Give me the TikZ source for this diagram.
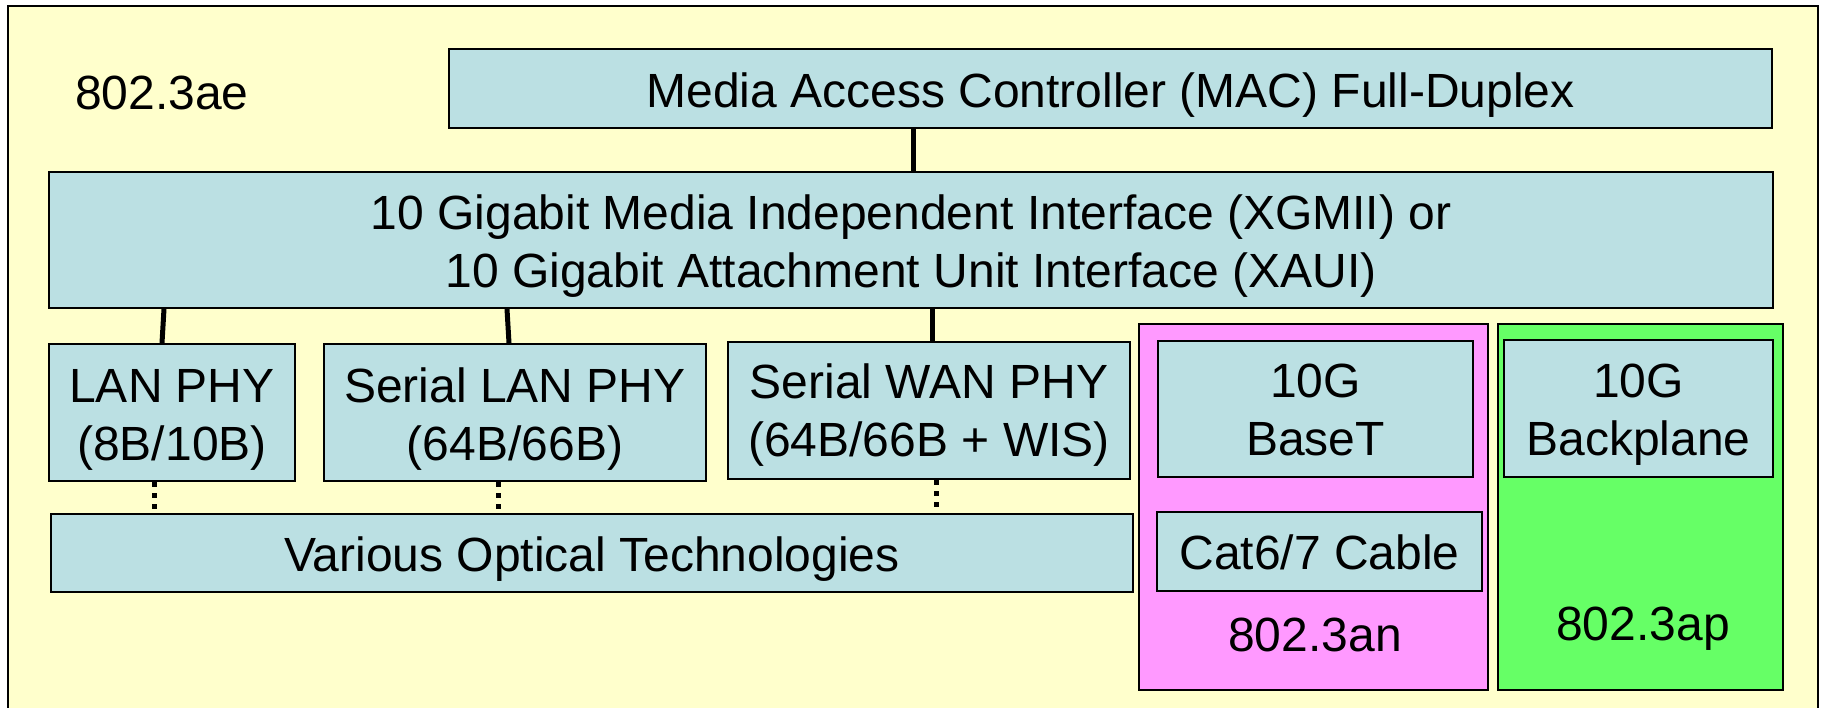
\documentclass[tikz,border=0pt]{standalone}
\usepackage{fontspec}
\setmainfont{Liberation Sans}
\definecolor{bg}{HTML}{FFFFCC}
\definecolor{boxblue}{HTML}{BBE0E3}
\definecolor{pinkbg}{HTML}{FF99FF}
\definecolor{greenbg}{HTML}{66FF66}
\begin{document}
\begin{tikzpicture}[x=1pt,y=-1pt,
  box/.style={draw=black, line width=2pt, fill=boxblue, inner sep=0pt, align=center,
    font=\fontsize{48}{58}\selectfont, text depth=0pt},
  group/.style={draw=black, line width=2pt, inner sep=0pt},
  link/.style={line width=5pt},
  optlink/.style={line width=5pt, dash pattern=on 5pt off 6pt},
  lbl/.style={font=\fontsize{48}{58}\selectfont, inner sep=0pt, anchor=base}
]
\useasboundingbox (0,0) rectangle (1821,707);
\fill[white] (0,0) rectangle (1821,707);
\clip (0,0) rectangle (1821,707);
\draw[fill=bg, line width=2.5pt] (8,6) rectangle (1818,760);

\node[lbl, anchor=base west] (ae) at (75,109) {802.3ae};

% group boxes
\node[group, fill=pinkbg, minimum width=349pt, minimum height=366pt] (an) at (1313.5,507) {};
\node[group, fill=greenbg, minimum width=285pt, minimum height=366pt] (ap) at (1640.5,507) {};
\node[lbl] (anlbl) at (1315,651) {802.3an};
\node[lbl] (aplbl) at (1643,640) {802.3ap};

% boxes
\node[box, minimum width=1323pt, minimum height=79pt, text height=37pt] (mac) at (1110.5,88.5)
  {Media Access Controller (MAC) Full-Duplex};
\node[box, minimum width=1724pt, minimum height=136pt, text height=94pt] (xgmii) at (911,240)
  {10 Gigabit Media Independent Interface (XGMII) or\\10 Gigabit Attachment Unit Interface (XAUI)};
\node[box, minimum width=246pt, minimum height=137pt, text height=95pt] (lan) at (172,412.5)
  {LAN PHY\\(8B/10B)};
\node[box, minimum width=382pt, minimum height=137pt, text height=95pt] (slan) at (515,412.5)
  {Serial LAN PHY\\(64B/66B)};
\node[box, minimum width=402pt, minimum height=137pt, text height=91pt] (wan) at (929,410.5)
  {Serial WAN PHY\\(64B/66B + WIS)};
\node[box, minimum width=1082pt, minimum height=78pt, text height=36pt] (vo) at (592,553)
  {Various Optical Technologies};
\node[box, minimum width=315pt, minimum height=136pt, text height=92pt] (baset) at (1315.5,409)
  {10G\\BaseT};
\node[box, minimum width=325pt, minimum height=79pt, text height=35pt] (cat) at (1319.5,551.5)
  {Cat6/7 Cable};
\node[box, minimum width=269pt, minimum height=137pt, text height=93pt] (bp) at (1638.5,408.5)
  {10G\\Backplane};

% connector x positions
\coordinate (m1) at (913,0);
\coordinate (a1) at (164,0);
\coordinate (a2) at (162,0);
\coordinate (b1) at (507,0);
\coordinate (b2) at (509,0);
\coordinate (c1) at (932,0);
\coordinate (d1) at (154,0);
\coordinate (d2) at (498,0);
\coordinate (d3) at (936,0);

\draw[link] (mac.south -| m1) -- (xgmii.north -| m1);
\draw[link] (xgmii.south -| a1) -- (lan.north -| a2);
\draw[link] (xgmii.south -| b1) -- (slan.north -| b2);
\draw[link] (xgmii.south -| c1) -- (wan.north -| c1);
\draw[optlink] (lan.south -| d1) -- (vo.north -| d1);
\draw[optlink] (slan.south -| d2) -- (vo.north -| d2);
\draw[optlink] (wan.south -| d3) -- (vo.north -| d3);
\end{tikzpicture}
\end{document}
